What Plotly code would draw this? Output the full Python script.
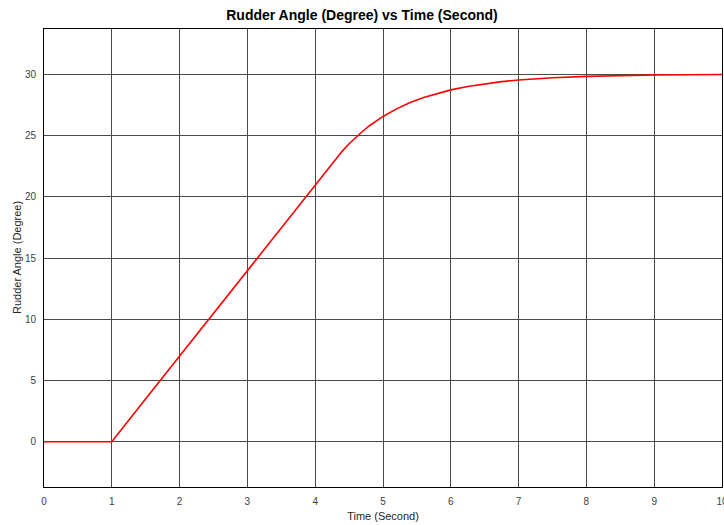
import plotly.graph_objects as go

time_s = [0, 1, 1.5, 2, 2.5, 3, 3.5, 4, 4.2, 4.3, 4.4, 4.5, 4.6, 4.7, 4.8, 4.9,
          5, 5.2, 5.4, 5.6, 5.8, 6, 6.25, 6.5, 6.75, 7, 7.5, 8, 8.5, 9, 9.5, 10]
angle_deg = [0, 0, 3.5, 7, 10.5, 14, 17.5, 21, 22.4, 23.07, 23.73, 24.33, 24.87,
             25.35, 25.8, 26.2, 26.56, 27.18, 27.69, 28.11, 28.45, 28.73, 29.01,
             29.23, 29.4, 29.53, 29.72, 29.83, 29.9, 29.94, 29.96, 29.98]

x_ticks = list(range(0, 11))
y_ticks = [0, 5, 10, 15, 20, 25, 30]

fig = go.Figure()
fig.add_trace(go.Scatter(x=time_s, y=angle_deg, mode="lines",
                         line=dict(color="#ff0000", width=1.6),
                         showlegend=False))

axis_common = dict(showline=True, linecolor="#000000", linewidth=1, mirror=True,
                   showgrid=True, gridcolor="#4a4a4a", gridwidth=1, zeroline=False,
                   ticks="", ticklabeloverflow="allow", automargin=False,
                   tickfont=dict(family="Liberation Sans, Arial", size=10, color="#404040"))

fig.update_layout(
    width=724, height=525,
    margin=dict(l=44, r=2, t=29, b=38),
    paper_bgcolor="white", plot_bgcolor="white",
    title=dict(text="<b>Rudder Angle (Degree) vs Time (Second)</b>", x=0.5, xanchor="center",
               y=1 - 15 / 525, yanchor="middle",
               font=dict(family="Liberation Sans, Arial", size=14, color="#000000")),
    xaxis=dict(range=[0, 10], tickvals=x_ticks, ticklabelstandoff=5,
               title=dict(text="Time (Second)", standoff=6,
                          font=dict(family="Liberation Sans, Arial", size=11, color="#262626")),
               **axis_common),
    yaxis=dict(range=[-3.7, 33.7], tickvals=y_ticks, ticklabelstandoff=5,
               **axis_common),
    annotations=[dict(text="Rudder Angle (Degree)", textangle=-90, showarrow=False,
                      xref="paper", yref="paper", x=-27 / 678, y=0.5,
                      xanchor="center", yanchor="middle",
                      font=dict(family="Liberation Sans, Arial", size=11, color="#262626"))],
)

fig.write_html("out.html")
